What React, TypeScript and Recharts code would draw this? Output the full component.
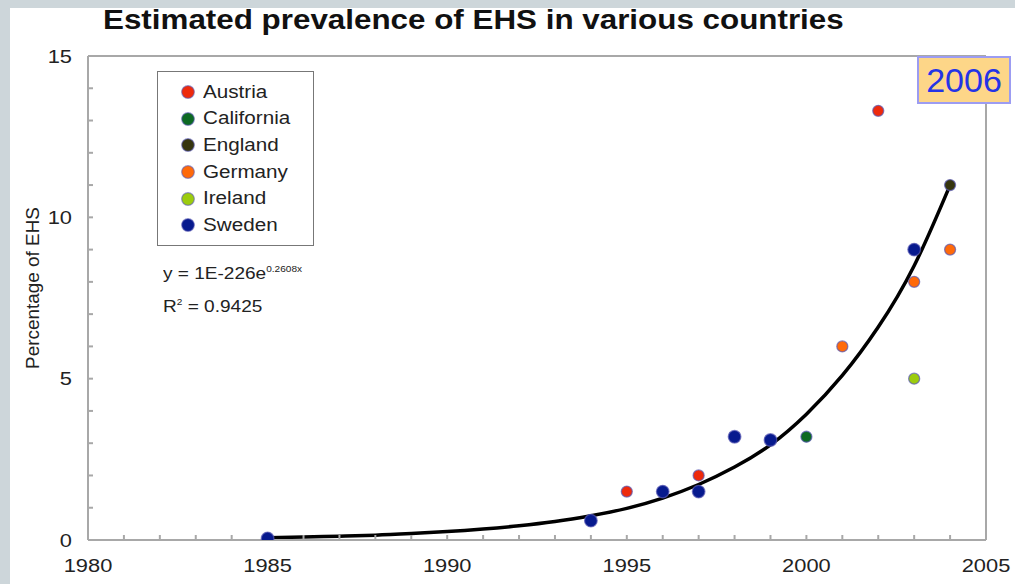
import React from 'react';
import { ComposedChart, XAxis, YAxis, Scatter, Line, ReferenceLine } from 'recharts';

const xTicks = [1980, 1981, 1982, 1983, 1984, 1985, 1986, 1987, 1988, 1989, 1990, 1991, 1992,
  1993, 1994, 1995, 1996, 1997, 1998, 1999, 2000, 2001, 2002, 2003, 2004, 2005];
const xLabels = [1980, 1985, 1990, 1995, 2000, 2005];
const yTicks = [0, 1, 2, 3, 4, 5, 6, 7, 8, 9, 10, 11, 12, 13, 14, 15];
const yLabels = [0, 5, 10, 15];

const countries = ['Austria', 'California', 'England', 'Germany', 'Ireland', 'Sweden'];
const countryColors = ['#ee2a0c', '#0d6a23', '#36350f', '#ff6a0a', '#9ccc0e', '#071a8e'];

const austriaYears = [1995, 1997, 2002];
const austriaValues = [1.5, 2.0, 13.3];
const californiaYears = [2000];
const californiaValues = [3.2];
const englandYears = [2004];
const englandValues = [11];
const germanyYears = [2001, 2003, 2004];
const germanyValues = [6, 8, 9];
const irelandYears = [2003];
const irelandValues = [5];
const swedenYears = [1985, 1994, 1996, 1997, 1998, 1999, 2003];
const swedenValues = [0.05, 0.6, 1.5, 1.5, 3.2, 3.1, 9];

// trend curve
const trendYears = [1985, 1986, 1987, 1988, 1989, 1990, 1991, 1992, 1993, 1994,
  1995, 1996, 1997, 1998, 1999, 2000, 2001, 2002, 2003, 2004];
const trendValues = [0.07, 0.09, 0.12, 0.15, 0.2, 0.26, 0.34, 0.44, 0.57, 0.75,
  0.98, 1.3, 1.72, 2.26, 2.95, 3.9, 5.1, 6.6, 8.5, 11.0];

const pts = (xs: number[], ys: number[]) => xs.map((x, i) => ({ x, y: ys[i] }));

const series = [
  pts(austriaYears, austriaValues),
  pts(californiaYears, californiaValues),
  pts(englandYears, englandValues),
  pts(germanyYears, germanyValues),
  pts(irelandYears, irelandValues),
  pts(swedenYears, swedenValues),
];
const trend = pts(trendYears, trendValues);

const FONT = '"Liberation Sans", Arial, sans-serif';
const FRAME = '#a8a8a8';

const XTick = ({ x, y, payload }: any) =>
  xLabels.includes(payload.value) ? (
    <text transform={`translate(${x},${y + 32}) scale(1.15,1)`} textAnchor="middle" fontSize={19} fill="#222" fontFamily={FONT}>
      {payload.value}
    </text>
  ) : (
    <g />
  );

const YTick = ({ x, y, payload }: any) =>
  yLabels.includes(payload.value) ? (
    <text transform={`translate(${x - 16},${y}) scale(1.15,1)`} dy="0.35em" textAnchor="end" fontSize={19} fill="#222" fontFamily={FONT}>
      {payload.value}
    </text>
  ) : (
    <g />
  );

const dot = (r: number, fill: string) => (props: any) =>
  <circle cx={props.cx} cy={props.cy} r={r} fill={fill} stroke="#5a5ab4" strokeOpacity={0.7} strokeWidth={1.3} />;

export default function App() {
  return (
    <div style={{ position: 'fixed', left: 0, top: 0, width: 1015, height: 584, background: '#cdd6da', fontFamily: FONT }}>
      <div style={{ position: 'absolute', left: 10, top: 8, right: 0, bottom: 0, background: '#fff' }} />

      <div style={{ position: 'absolute', left: 103, top: 4, fontSize: 28, fontWeight: 'bold', color: '#111', whiteSpace: 'nowrap', transform: 'scaleX(1.12)', transformOrigin: 'left' }}>
        Estimated prevalence of EHS in various countries
      </div>

      <div style={{ position: 'absolute', left: 33, top: 288, fontSize: 18, color: '#222', whiteSpace: 'nowrap', transform: 'translate(-50%, -50%) rotate(-90deg) scaleX(1.05)' }}>
        Percentage of EHS
      </div>

      <div style={{ position: 'absolute', left: 0, top: 0 }}>
        <ComposedChart width={1015} height={584} margin={{ top: 56, right: 29, bottom: 0, left: 28 }}>
          <XAxis
            type="number"
            dataKey="x"
            domain={[1980, 2005]}
            ticks={xTicks}
            interval={0}
            tick={<XTick />}
            tickSize={-5}
            tickMargin={5}
            height={44}
            stroke={FRAME}
            strokeWidth={2}
            allowDataOverflow
          />
          <YAxis
            type="number"
            dataKey="y"
            domain={[0, 15]}
            ticks={yTicks}
            interval={0}
            tick={<YTick />}
            tickSize={-5}
            tickMargin={5}
            width={60}
            stroke={FRAME}
            strokeWidth={2}
            allowDataOverflow
          />
          <ReferenceLine y={15} stroke={FRAME} strokeWidth={2} />
          <ReferenceLine x={2005} stroke={FRAME} strokeWidth={2} />
          <Line
            data={trend}
            dataKey="y"
            type="natural"
            dot={false}
            stroke="#000"
            strokeWidth={3.5}
            legendType="none"
            isAnimationActive={false}
          />
          {series.map((d, i) => (
            <Scatter
              key={countries[i]}
              name={countries[i]}
              data={d}
              dataKey="y"
              fill={countryColors[i]}
              shape={dot(countries[i] === 'Sweden' ? 6.3 : 5.5, countryColors[i])}
              isAnimationActive={false}
            />
          ))}
        </ComposedChart>
      </div>

      <div style={{ position: 'absolute', left: 157, top: 71, width: 155, height: 173, border: '1.5px solid #777', background: '#fff' }}>
        <div style={{ paddingTop: 7 }}>
          {countries.map((c, i) => (
            <div key={c} style={{ height: 26.6, display: 'flex', alignItems: 'center' }}>
              <svg width={45} height={16} style={{ flex: 'none' }}>
                <circle cx={30} cy={8} r={6.3} fill={countryColors[i]} stroke="#5a5ab4" strokeOpacity={0.6} strokeWidth={1.2} />
              </svg>
              <span style={{ fontSize: 17.5, color: '#222', transform: 'scaleX(1.18)', transformOrigin: 'left', display: 'inline-block' }}>{c}</span>
            </div>
          ))}
        </div>
      </div>

      <div style={{ position: 'absolute', left: 163, top: 264, fontSize: 17, color: '#222', whiteSpace: 'nowrap', transform: 'scaleX(1.12)', transformOrigin: 'left' }}>
        y = 1E-226e<sup style={{ fontSize: 9 }}>0.2608x</sup>
      </div>
      <div style={{ position: 'absolute', left: 163, top: 297, fontSize: 17, color: '#222', whiteSpace: 'nowrap', transform: 'scaleX(1.12)', transformOrigin: 'left' }}>
        R<sup style={{ fontSize: 9 }}>2</sup> = 0.9425
      </div>

      <div style={{ position: 'absolute', left: 917, top: 56, width: 90, height: 44, background: '#fdd688', border: '2px solid #9c9cf2', color: '#2434e6', fontSize: 34, display: 'flex', alignItems: 'center', justifyContent: 'center' }}>
        2006
      </div>
    </div>
  );
}
